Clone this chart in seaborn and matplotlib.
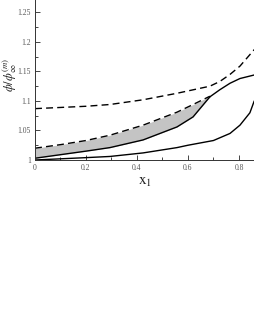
import numpy as np
import matplotlib
matplotlib.use("Agg")
import matplotlib.pyplot as plt
import seaborn as sns

# curves (x_1 vs phi/phi_inf^(m))
x_top_dash = [0, 0.1, 0.2, 0.294, 0.424, 0.557, 0.686, 0.725, 0.765, 0.804, 0.86]
y_top_dash = [1.087, 1.089, 1.091, 1.094, 1.102, 1.113, 1.125, 1.133, 1.145, 1.159, 1.187]

# shaded band: dashed upper edge, solid lower edge (same x grid)
x_band = [0, 0.1, 0.2, 0.294, 0.424, 0.557, 0.62, 0.686]
y_band_hi = [1.020, 1.026, 1.033, 1.042, 1.059, 1.081, 1.094, 1.108]
y_band_lo = [1.003, 1.009, 1.015, 1.021, 1.034, 1.056, 1.073, 1.107]

# solid continuation of band's lower edge
x_mid_solid = [0.686, 0.725, 0.765, 0.804, 0.86]
y_mid_solid = [1.107, 1.119, 1.130, 1.138, 1.144]

x_low_solid = [0, 0.1, 0.2, 0.294, 0.424, 0.557, 0.6, 0.7, 0.765, 0.804, 0.843, 0.86]
y_low_solid = [1.0, 1.002, 1.004, 1.006, 1.012, 1.021, 1.025, 1.033, 1.045, 1.059, 1.08, 1.10]

xticks = [0, 0.2, 0.4, 0.6, 0.8]
xtick_labels = ["0", "0.2", "0.4", "0.6", "0.8"]
yticks = [1.0, 1.05, 1.1, 1.15, 1.2, 1.25]
ytick_labels = ["1", "1.05", "1.1", "1.15", "1.2", "1.25"]

sns.set_style("ticks")
plt.rcParams['font.family'] = ['Liberation Serif', 'DejaVu Serif']
plt.rcParams['mathtext.fontset'] = 'stix'

fig = plt.figure(figsize=(2.55, 3.30), dpi=100)
ax = fig.add_axes([35 / 255, 170 / 330, 220 / 255, 160 / 330])

ax.fill_between(x_band, y_band_lo, y_band_hi, color="#c4c4c4", lw=0)
sns.lineplot(x=x_top_dash, y=y_top_dash, ax=ax, color="black", lw=1.0,
             linestyle=(0, (5, 3)))
sns.lineplot(x=x_band, y=y_band_hi, ax=ax, color="black", lw=1.0,
             linestyle=(0, (5, 3)))
sns.lineplot(x=x_band, y=y_band_lo, ax=ax, color="black", lw=1.0)
sns.lineplot(x=x_mid_solid, y=y_mid_solid, ax=ax, color="black", lw=1.0)
sns.lineplot(x=x_low_solid, y=y_low_solid, ax=ax, color="black", lw=1.0)

ax.set_xlim(0, 0.863)
ax.set_ylim(1.0, 1.271)
ax.set_xticks(xticks)
ax.set_xticklabels(xtick_labels)
ax.set_yticks(yticks)
ax.set_yticklabels(ytick_labels)
ax.set_xticks([0.1, 0.3, 0.5, 0.7], minor=True)
ax.set_yticks([1.025, 1.075, 1.125, 1.175, 1.225], minor=True)
ax.tick_params(which="major", direction="in", length=3.5, width=0.6,
               labelsize=5.5, labelcolor="#555555", pad=3)
ax.tick_params(which="minor", direction="in", length=2, width=0.6)

for s in ["top", "right"]:
    ax.spines[s].set_visible(False)
for s in ["left", "bottom"]:
    ax.spines[s].set_linewidth(0.7)
    ax.spines[s].set_color("#333333")

ax.set_xlabel(r"$\mathrm{x}_1$", fontsize=11, labelpad=3)
ax.set_ylabel(r"$\phi/\phi^{(m)}_{\infty}$", fontsize=9)
ax.yaxis.set_label_coords(-0.075, 0.53)

fig.savefig("out.png", dpi=100)
